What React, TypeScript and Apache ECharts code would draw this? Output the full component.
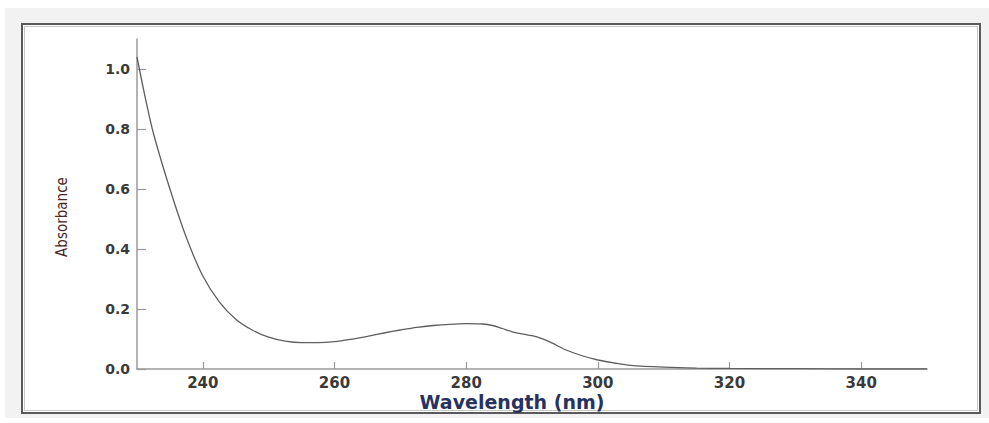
import React, { useEffect, useRef } from "react";
import * as echarts from "echarts";

const wavelength = [230, 231.25, 232.5, 235, 237.5, 240, 242.5, 245, 247.5, 250, 252.5, 255, 257.5, 260, 262.5, 265, 267.5, 270, 272.5, 275, 277.5, 280, 282.5, 284, 285.5, 287, 288.5, 290, 291.5, 293, 295, 297.5, 300, 302.5, 305, 310, 315, 320, 330, 340, 350];
const absorbance = [1.04, 0.905, 0.785, 0.6, 0.438, 0.31, 0.224, 0.166, 0.13, 0.106, 0.093, 0.088, 0.088, 0.091, 0.099, 0.109, 0.12, 0.13, 0.139, 0.145, 0.149, 0.151, 0.15, 0.145, 0.135, 0.124, 0.117, 0.111, 0.101, 0.087, 0.065, 0.045, 0.03, 0.02, 0.012, 0.006, 0.003, 0.002, 0.001, 0.0, 0.0];
const xTicks = [240, 260, 280, 300, 320, 340];
const yTicks = [0, 0.2, 0.4, 0.6, 0.8, 1.0];
const xTitle = "Wavelength (nm)";
const yTitle = "Absorbance";

export default function App() {
  const ref = useRef<HTMLDivElement>(null);
  useEffect(() => {
    if (!ref.current) return;
    const chart = echarts.init(ref.current, null, { renderer: "svg" });
    const labelStyle = {
      color: "#3a3a3a",
      fontFamily: "DejaVu Sans",
      fontWeight: "bold" as const,
    };
    chart.setOption({
      animation: false,
      backgroundColor: "#ffffff",
      graphic: [
        { type: "rect", z: -10, shape: { x: 5, y: 8, width: 984, height: 410 }, style: { fill: "#f2f2f2" }, silent: true },
        { type: "rect", z: -9, shape: { x: 22, y: 24, width: 958, height: 389 }, style: { fill: "#ffffff", stroke: "#5a5a5a", lineWidth: 2 }, silent: true },
        { type: "rect", z: -8, shape: { x: 24.5, y: 26.5, width: 953, height: 384 }, style: { fill: "none", stroke: "#c8c8c8", lineWidth: 1 }, silent: true },
        {
          type: "text",
          x: 62,
          y: 217,
          rotation: Math.PI / 2,
          style: {
            text: yTitle,
            fill: "#4a2626",
            font: "15px 'DejaVu Sans Condensed', 'DejaVu Sans'",
            align: "center",
            verticalAlign: "middle",
          },
        },
        {
          type: "text",
          x: 512,
          y: 402,
          style: {
            text: xTitle,
            fill: "#283260",
            font: "bold 19px 'DejaVu Sans'",
            align: "center",
            verticalAlign: "middle",
          },
        },
      ],
      grid: { left: 137, right: 62, top: 39, bottom: 54, containLabel: false },
      xAxis: {
        type: "value",
        min: 230,
        max: 350,
        axisLine: { show: true, lineStyle: { color: "#9a9a9a", width: 1.5 } },
        axisTick: { show: true, inside: true, length: 7, customValues: xTicks, lineStyle: { color: "#9a9a9a", width: 1.2 } },
        axisLabel: { ...labelStyle, fontSize: 15, margin: 6, customValues: xTicks },
        splitLine: { show: false },
      },
      yAxis: {
        type: "value",
        min: 0,
        max: 1.1,
        axisLine: { show: true, lineStyle: { color: "#9a9a9a", width: 1.5 } },
        axisTick: { show: true, inside: true, length: 9, customValues: yTicks, lineStyle: { color: "#9a9a9a", width: 1.2 } },
        axisLabel: { ...labelStyle, fontSize: 14, margin: 7, customValues: yTicks, formatter: (v: number) => v.toFixed(1) },
        splitLine: { show: false },
      },
      series: [
        {
          type: "line",
          data: wavelength.map((w, i) => [w, absorbance[i]]),
          smooth: 0.3,
          showSymbol: false,
          lineStyle: { color: "#5e5e5e", width: 1.3 },
        },
      ],
    });
    return () => chart.dispose();
  }, []);
  return <div ref={ref} style={{ position: "fixed", left: 0, top: 0, width: 989, height: 423 }} />;
}
